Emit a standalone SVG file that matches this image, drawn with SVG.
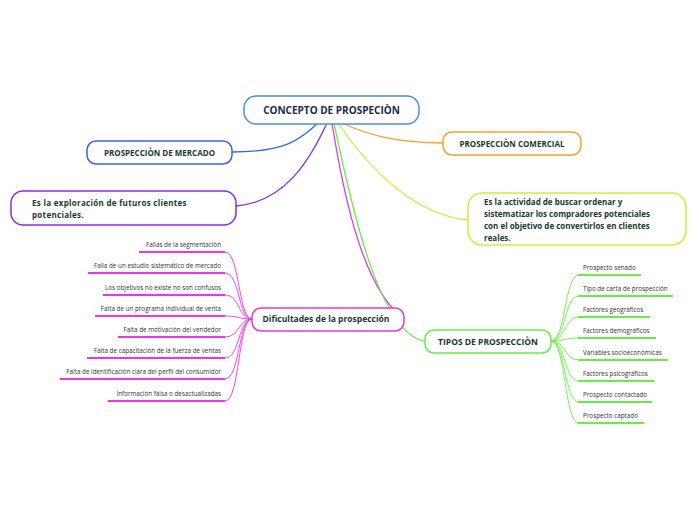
<svg xmlns="http://www.w3.org/2000/svg" width="696" height="520" viewBox="0 0 696 520">
<style>
.node{fill:#fff;stroke-width:1.5}
.t{font-family:"Open Sans","Noto Sans",sans-serif;font-weight:bold;fill:#173a2e}
.c{font-family:"Open Sans","Noto Sans",sans-serif;font-size:6.3px;fill:#333}
.conn{fill:none;stroke-width:1.3}
.ul{fill:none;stroke-width:2}
.br{fill:none;stroke-width:0.9}
</style>
<rect width="696" height="520" fill="#fff"/>
<g id="connectors">
<path class="conn" stroke="#3366ee" d="M232,152 C285,152 300,140 318,123"/>
<path class="conn" stroke="#8a2be2" d="M236,206 C285,202 310,160 327,123"/>
<path class="conn" stroke="#f5a030" d="M443,143 C400,143 370,136 342,123"/>
<path class="conn" stroke="#ccf03a" d="M468,220 C415,215 370,170 338,123"/>
<path class="conn" stroke="#e535e5" d="M332,123 C345,205 365,290 404,319"/>
<path class="conn" stroke="#66ee44" d="M334,123 C352,210 380,335 425,341"/>
<g stroke="#ee33ee">
<path class="br" d="M252,319 C238,319 240,252 225,252"/>
<path class="br" d="M252,319 C238,319 240,273 225,273"/>
<path class="br" d="M252,319 C238,319 240,295 225,295"/>
<path class="br" d="M252,319 C238,319 240,316 225,316"/>
<path class="br" d="M252,319 C238,319 240,337 225,337"/>
<path class="br" d="M252,319 C238,319 240,358 225,358"/>
<path class="br" d="M252,319 C238,319 240,379 225,379"/>
<path class="br" d="M252,319 C238,319 240,401 225,401"/>
<path class="ul" d="M139,252H225M88,273H225M103,295H225M95,316H225M118,337H225M87,358H225M60,379H225M108,401H225"/>
</g>
<g stroke="#66ee44">
<path class="br" d="M551,341 C566,341 564,275 579,275"/>
<path class="br" d="M551,341 C566,341 564,296 579,296"/>
<path class="br" d="M551,341 C566,341 564,317 579,317"/>
<path class="br" d="M551,341 C566,341 564,338 579,338"/>
<path class="br" d="M551,341 C566,341 564,360 579,360"/>
<path class="br" d="M551,341 C566,341 564,381 579,381"/>
<path class="br" d="M551,341 C566,341 564,402 579,402"/>
<path class="br" d="M551,341 C566,341 564,423 579,423"/>
<path class="ul" d="M578,275H641M578,296H673M578,317H650M578,338H656M578,360H668M578,381H654M578,402H652M578,423H644"/>
</g>
</g>
<g id="central">
<rect class="node" x="244" y="96" width="175" height="28" rx="12" stroke="#4a8fd8"/>
<text class="t" x="331.5" y="114" font-size="10" text-anchor="middle" fill="#1b2a4a" style="fill:#1b2a4a">CONCEPTO DE PROSPECIÒN</text>
</g>
<g id="mercado">
<rect class="node" x="87" y="141" width="145" height="23" rx="9" stroke="#3366ee"/>
<text class="t" x="159.5" y="155.5" font-size="8" text-anchor="middle">PROSPECCIÒN DE MERCADO</text>
</g>
<g id="comercial">
<rect class="node" x="443" y="132" width="138" height="23" rx="9" stroke="#f5a030"/>
<text class="t" x="512" y="146.5" font-size="8" text-anchor="middle">PROSPECCIÒN COMERCIAL</text>
</g>
<g id="exploracion">
<rect class="node" x="11" y="191" width="225" height="34" rx="12" stroke="#8a2be2"/>
<text class="t" x="32" y="206" font-size="8" letter-spacing="0.3">Es la exploración de futuros clientes</text>
<text class="t" x="32" y="218" font-size="8" letter-spacing="0.3">potenciales.</text>
</g>
<g id="actividad">
<rect class="node" x="468" y="193" width="218" height="52" rx="14" stroke="#ccf03a"/>
<text class="t" x="484" y="205" font-size="8">Es la actividad de buscar ordenar y</text>
<text class="t" x="484" y="217" font-size="8">sistematizar los compradores potenciales</text>
<text class="t" x="484" y="229" font-size="8">con el objetivo de convertirlos en clientes</text>
<text class="t" x="484" y="241" font-size="8">reales.</text>
</g>
<g id="dificultades">
<rect class="node" x="252" y="308" width="152" height="23" rx="9" stroke="#e535e5"/>
<text class="t" x="326" y="322" font-size="8.5" text-anchor="middle">Dificultades de la prospección</text>
</g>
<g id="tipos">
<rect class="node" x="425" y="330" width="126" height="23" rx="9" stroke="#66ee44"/>
<text class="t" x="488" y="344.5" font-size="8.5" text-anchor="middle">TIPOS DE PROSPECCIÒN</text>
</g>
<g id="dif-items" text-anchor="end">
<text class="c" x="221" y="247">Fallas de la segmentación</text>
<text class="c" x="221" y="268">Falla de un estudio sistemático de mercado</text>
<text class="c" x="221" y="290">Los objetivos no existe no son confusos</text>
<text class="c" x="221" y="311">Falta de un programa individual de venta</text>
<text class="c" x="221" y="332">Falta de motivación del vendedor</text>
<text class="c" x="221" y="353">Falta de capacitación de la fuerza de ventas</text>
<text class="c" x="221" y="374">Falta de identificación clara del perfil del consumidor</text>
<text class="c" x="221" y="396">Información falsa o desactualizadas</text>
</g>
<g id="tipos-items">
<text class="c" x="583" y="270">Prospecto senado</text>
<text class="c" x="583" y="291">Tipo de carta de prospección</text>
<text class="c" x="583" y="312">Factores geográficos</text>
<text class="c" x="583" y="333">Factores demográficos</text>
<text class="c" x="583" y="355">Variables socioeconómicas</text>
<text class="c" x="583" y="376">Factores psicográficos</text>
<text class="c" x="583" y="397">Prospecto contactado</text>
<text class="c" x="583" y="418">Prospecto captado</text>
</g>
</svg>
